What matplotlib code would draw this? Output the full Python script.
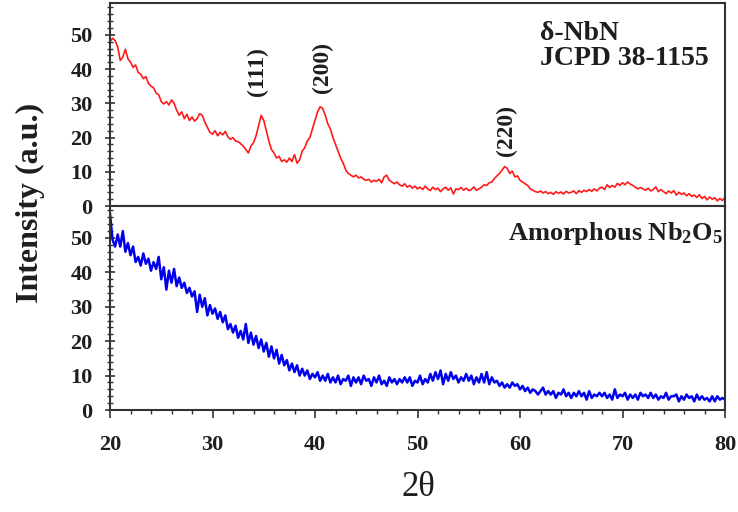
import numpy as np
import matplotlib
matplotlib.use("Agg")
import matplotlib.pyplot as plt
from matplotlib.ticker import MultipleLocator

# 2-theta grid (degrees), 0.25 deg step
two_theta = np.arange(0, 241) * 0.25 + 20.0

nbn_intensity = [
    48.0, 49.0, 48.3, 46.5,  42.5, 43.5, 45.8, 43.0,  42.0, 40.5, 41.2, 39.0,
    38.5, 37.2, 37.8, 35.8,  35.0, 34.5, 33.0, 32.5,  30.5, 29.8, 30.5, 29.5,
    31.0, 30.0, 28.0, 26.5,  27.5, 25.5, 26.8, 25.0,  26.0, 24.8, 25.5, 27.0,
    26.5, 24.5, 23.0, 21.5,  21.0, 22.0, 20.5, 21.5,  20.8, 21.8, 20.2, 19.5,
    20.0, 19.0, 18.8, 18.2,  17.5, 16.5, 15.5, 17.5,  18.5, 20.5, 23.5, 26.5,
    25.0, 22.0, 19.0, 16.5,  15.5, 14.0, 14.5, 13.0,  13.5, 12.8, 14.0, 13.0,
    15.0, 12.5, 13.5, 16.0,  17.0, 19.0, 20.0, 22.5,  25.0, 27.5, 29.0, 28.5,
    26.5, 24.0, 22.5, 20.0,  18.0, 16.0, 14.0, 12.5,  10.5, 9.5, 9.0, 8.5,
    9.0, 8.2, 8.5, 7.8,      7.5, 7.8, 7.0, 7.5,      7.2, 7.8, 6.8, 8.5,
    9.0, 7.5, 7.0, 6.5,      7.0, 6.2, 5.8, 6.5,      5.5, 6.0, 5.2, 5.8,
    5.0, 5.5, 4.8, 5.8,      5.0, 4.5, 5.5, 4.8,      5.2, 4.2, 5.0, 5.5,
    4.6, 5.3, 3.5, 5.0,      4.8, 5.4, 4.6, 5.2,      4.5, 4.8, 5.6, 4.6,
    5.0, 5.5, 6.2, 6.0,      6.8, 7.0, 8.0, 8.8,      9.5, 10.5, 11.5, 11.0,
    9.5, 10.2, 8.5, 8.8,     7.5, 7.0, 6.5, 6.0,      5.0, 4.6, 4.2, 4.0,
    4.4, 3.8, 4.2, 3.6,      4.0, 3.4, 4.2, 3.7,      4.1, 3.5, 4.3, 3.8,
    4.0, 4.4, 3.6, 4.5,      4.0, 4.6, 4.2, 4.8,      4.3, 5.0, 4.4, 5.2,
    5.5, 4.8, 6.2, 5.4,      6.0, 5.5, 6.6, 6.0,      6.8, 6.2, 7.0, 6.4,
    6.0, 5.5, 5.0, 5.4,      5.0, 4.6, 5.2, 4.4,      4.8, 5.6, 4.2, 4.8,
    4.2, 3.6, 4.4, 3.8,      4.5, 3.2, 4.0, 3.4,      3.8, 3.0, 3.6, 2.8,
    3.2, 2.5, 3.3, 2.2,      2.8, 1.8, 2.6, 2.0,      2.4, 1.5, 2.2, 1.6,
    2.5,
]

nb2o5_intensity = [
    57.0, 49.5, 47.5, 51.0,  47.5, 52.0, 46.0, 48.5,  45.0, 47.5, 43.0, 44.5,
    42.0, 45.5, 42.5, 44.0,  40.5, 43.0, 41.0, 44.5,  38.0, 41.5, 35.0, 40.5,
    37.0, 41.0, 36.0, 38.5,  35.5, 37.0, 34.0, 35.5,  33.0, 34.5, 28.5, 33.5,
    30.0, 32.5, 27.5, 30.5,  28.0, 29.5, 26.5, 28.5,  25.5, 27.5, 23.5, 25.0,
    22.5, 24.5, 21.0, 23.0,  20.5, 25.0, 19.5, 22.5,  19.0, 21.5, 18.0, 20.5,
    17.0, 19.5, 15.5, 18.5,  15.0, 17.5, 13.5, 16.0,  13.0, 14.5, 11.5, 13.5,
    11.0, 13.0, 10.0, 12.0,  10.0, 11.5, 9.0, 10.5,   9.5, 11.0, 8.5, 10.0,
    8.5, 10.5, 8.0, 9.5,     8.0, 10.0, 7.5, 9.0,     8.5, 10.0, 7.0, 9.5,
    8.0, 9.5, 7.5, 10.0,     8.5, 9.0, 7.0, 9.5,      8.0, 10.0, 7.5, 8.5,
    7.0, 9.5, 8.0, 9.0,      7.5, 9.0, 8.0, 9.5,      8.0, 9.5, 7.0, 8.5,
    8.0, 10.0, 7.5, 9.0,     8.0, 10.5, 8.5, 11.0,    9.0, 11.5, 7.5, 10.5,
    8.5, 11.0, 9.0, 10.0,    8.0, 9.5, 8.5, 10.5,     8.5, 10.0, 7.5, 9.5,
    8.0, 10.5, 8.0, 11.0,    7.5, 9.5, 8.0, 8.5,      7.0, 8.0, 6.5, 7.5,
    6.5, 8.0, 7.0, 7.5,      6.0, 7.0, 5.5, 6.5,      5.0, 6.0, 5.5, 4.5,
    5.5, 6.5, 4.5, 5.5,      4.5, 5.5, 3.5, 5.0,      4.5, 6.0, 4.0, 5.0,
    3.5, 5.0, 4.0, 5.5,      4.0, 5.0, 3.0, 5.5,      3.5, 4.5, 4.0, 5.0,
    4.0, 5.0, 3.5, 4.5,      3.0, 6.0, 3.5, 4.5,      4.0, 5.0, 3.0, 4.5,
    3.5, 4.5, 3.0, 5.0,      4.0, 4.5, 3.5, 5.0,      3.5, 4.5, 3.0, 4.0,
    3.5, 5.0, 3.0, 4.0,      4.0, 4.5, 2.5, 4.0,      3.0, 4.5, 3.5, 4.0,
    2.5, 4.5, 3.0, 4.0,      3.0, 3.5, 2.5, 4.0,      2.5, 4.0, 3.0, 3.5,
    3.0,
]

peak_labels = ["(111)", "(200)", "(220)"]
peak_x = [34.4, 40.7, 58.7]
peak_label_y = [39.2, 40.4, 22.2]

x_ticks = [20, 30, 40, 50, 60, 70, 80]
y_ticks = [0, 10, 20, 30, 40, 50]

serif = ["Liberation Serif", "DejaVu Serif"]
plt.rcParams["font.family"] = serif
plt.rcParams["mathtext.fontset"] = "custom"
plt.rcParams["mathtext.rm"] = "Liberation Serif:bold"
plt.rcParams["mathtext.bf"] = "Liberation Serif:bold"
plt.rcParams["mathtext.it"] = "Liberation Serif:bold"

fig = plt.figure(figsize=(7.38, 5.12), dpi=100)
left, width = 110 / 738, 615 / 738
ax_top = fig.add_axes([left, 1 - 206 / 512, width, 203 / 512])
ax_bot = fig.add_axes([left, 1 - 410 / 512, width, 204 / 512])

spine_col = "#333333"
text_col = "#1e1e1e"
for ax in (ax_top, ax_bot):
    ax.set_xlim(20, 80)
    ax.set_ylim(0, 59.3)
    for s in ax.spines.values():
        s.set_color(spine_col)
        s.set_linewidth(1.5)
    ax.yaxis.set_major_locator(MultipleLocator(10))
    ax.yaxis.set_minor_locator(MultipleLocator(2))
    ax.xaxis.set_major_locator(MultipleLocator(10))
    ax.xaxis.set_minor_locator(MultipleLocator(2))
    ax.tick_params(axis="y", which="major", direction="inout", length=7,
                   width=1.2, color=spine_col, labelsize=16, pad=9,
                   labelcolor=text_col)
    ax.tick_params(axis="y", which="minor", direction="inout", length=4,
                   width=1.0, color=spine_col)
    ax.set_yticks(y_ticks)
    for lab in ax.get_yticklabels():
        lab.set_fontweight("bold")

ax_top.plot(two_theta, nbn_intensity, color="#ff1a1a", lw=1.2)
ax_bot.plot(two_theta, nb2o5_intensity, color="#0000ee", lw=1.8)

ax_top.tick_params(axis="x", which="both", bottom=False, labelbottom=False)
ax_bot.tick_params(axis="x", which="major", direction="out", length=6,
                   width=1.2, color=spine_col, labelsize=16, pad=12,
                   labelcolor=text_col)
ax_bot.tick_params(axis="x", which="minor", direction="out", length=3,
                   width=1.0, color=spine_col)
ax_bot.set_xticks(x_ticks)
for lab in ax_bot.get_xticklabels():
    lab.set_fontweight("bold")

for lbl, px, py in zip(peak_labels, peak_x, peak_label_y):
    ax_top.text(px, py, lbl, rotation=90, ha="center", va="center",
                fontsize=17, fontweight="bold", color=text_col)

ax_top.text(0.699, 0.852, "δ-NbN", transform=ax_top.transAxes, fontsize=20,
            fontweight="bold", color=text_col, ha="left", va="center")
ax_top.text(0.699, 0.725, "JCPD 38-1155", transform=ax_top.transAxes, fontsize=20,
            fontweight="bold", color=text_col, ha="left", va="center")
ax_bot.text(0.997, 0.865, r"Amorphous Nb$_\mathbf{2}$O$_\mathbf{5}$",
            transform=ax_bot.transAxes, fontsize=19, fontweight="bold",
            color=text_col, ha="right", va="center")

fig.text(30 / 738, 1 - 203 / 512, "Intensity (a.u.)", rotation=90, fontsize=23,
         fontweight="bold", ha="center", va="center", color=text_col)
fig.text(418 / 738, 1 - 488 / 512, "2θ", fontsize=25, ha="center", va="center",
         color=text_col)

fig.savefig("out.png", dpi=100)
